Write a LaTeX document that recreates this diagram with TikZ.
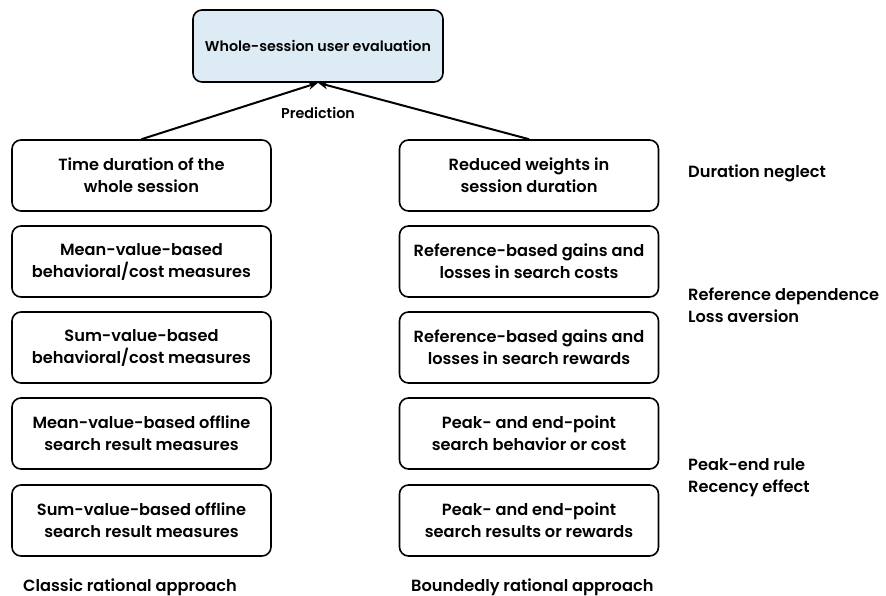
\documentclass[tikz,border=0pt]{standalone}
\usepackage{fontspec}
\setmainfont{Poppins}[UprightFont=* SemiBold]
\usetikzlibrary{arrows.meta}
\definecolor{topfill}{HTML}{DDECF4}
\tikzset{
  box/.style={draw=black, line width=1.6pt, rounded corners=9pt, minimum width=259pt, minimum height=71pt, align=center, font=\fontsize{16.2}{22}\selectfont, inner sep=0pt},
  lbl/.style={anchor=west, align=left, font=\fontsize{16.2}{22}\selectfont, inner sep=0pt},
  conn/.style={line width=2pt, -{Stealth[length=10pt,width=8pt]}}
}
\begin{document}
\begin{tikzpicture}[x=1pt,y=-1pt]
\useasboundingbox (0,0) rectangle (886,596);
\node[box, fill=topfill, minimum width=250pt, minimum height=72pt, font=\fontsize{14.3}{20}\selectfont] (top) at (318,46) {Whole-session user evaluation};
\node[box] (l1) at (141.5,175.5) {Time duration of the\\whole session};
\node[box] (l2) at (141.5,261.5) {Mean-value-based\\behavioral/cost measures};
\node[box] (l3) at (141.5,347.5) {Sum-value-based\\behavioral/cost measures};
\node[box] (l4) at (141.5,433.5) {Mean-value-based offline\\search result measures};
\node[box] (l5) at (141.5,520.5) {Sum-value-based offline\\search result measures};
\node[box] (r1) at (529,175.5) {Reduced weights in\\session duration};
\node[box] (r2) at (529,261.5) {Reference-based gains and\\losses in search costs};
\node[box] (r3) at (529,347.5) {Reference-based gains and\\losses in search rewards};
\node[box] (r4) at (529,433.5) {Peak- and end-point\\search behavior or cost};
\node[box] (r5) at (529,520.5) {Peak- and end-point\\search results or rewards};
\node[font=\fontsize{14.3}{20}\selectfont, inner sep=0pt] (pred) at (318,113) {Prediction};
\node[lbl] (dn) at (688,173) {Duration neglect};
\node[lbl] (rd) at (688,305) {Reference dependence\\Loss aversion};
\node[lbl] (pe) at (688,478) {Peak-end rule\\Recency effect};
\node[lbl] (cr) at (23,587) {Classic rational approach};
\node[lbl] (br) at (411,587) {Boundedly rational approach};
\draw[conn] (l1.north) -- (top.south);
\draw[conn] (r1.north) -- (top.south);
\end{tikzpicture}
\end{document}
